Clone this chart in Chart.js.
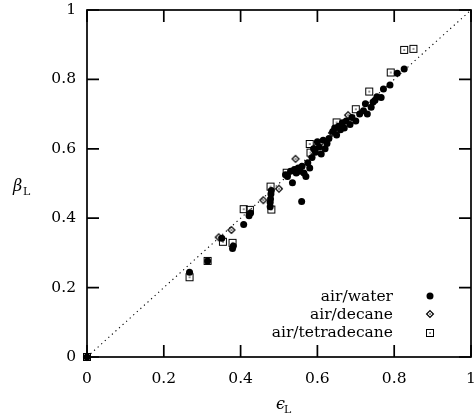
<!DOCTYPE html>
<html>
<head>
<meta charset="utf-8">
<script src="https://cdn.jsdelivr.net/npm/chart.js@4/dist/chart.umd.min.js"></script>
<style>
  html, body { margin: 0; padding: 0; background: #fff; }
</style>
</head>
<body>
<canvas id="chart" width="476" height="419"></canvas>
<script>
// Values (epsilon_L on x, beta_L on y)
const waterX = [0, 0.267, 0.314, 0.351, 0.379, 0.381, 0.408, 0.422, 0.426, 0.477, 0.477, 0.478, 0.479, 0.48,
  0.559, 0.517, 0.522, 0.53, 0.535, 0.54, 0.545, 0.55, 0.555, 0.56, 0.565, 0.57, 0.575, 0.58,
  0.586, 0.59, 0.595, 0.6, 0.605, 0.61, 0.615, 0.62, 0.625, 0.63, 0.64, 0.645, 0.65, 0.655,
  0.66, 0.665, 0.67, 0.675, 0.685, 0.69, 0.7, 0.71, 0.72, 0.725, 0.73, 0.74, 0.745, 0.75,
  0.755, 0.766, 0.772, 0.789, 0.808, 0.826];
const waterY = [0, 0.244, 0.277, 0.342, 0.313, 0.32, 0.382, 0.407, 0.415, 0.445, 0.433, 0.455, 0.47, 0.48,
  0.448, 0.525, 0.52, 0.535, 0.502, 0.54, 0.53, 0.545, 0.535, 0.55, 0.53, 0.52, 0.56, 0.545,
  0.575, 0.6, 0.59, 0.62, 0.605, 0.585, 0.625, 0.6, 0.615, 0.63, 0.65, 0.66, 0.64, 0.665,
  0.655, 0.675, 0.66, 0.68, 0.67, 0.69, 0.68, 0.7, 0.71, 0.73, 0.7, 0.72, 0.735, 0.74,
  0.75, 0.748, 0.772, 0.784, 0.818, 0.83];

const decaneX = [0, 0.343, 0.376, 0.459, 0.5, 0.543, 0.6, 0.638, 0.68];
const decaneY = [0, 0.345, 0.366, 0.452, 0.485, 0.571, 0.61, 0.646, 0.697];

const tetraX = [0, 0.267, 0.314, 0.354, 0.379, 0.408, 0.424, 0.48, 0.478, 0.52, 0.58, 0.582,
  0.65, 0.7, 0.735, 0.791, 0.826, 0.85];
const tetraY = [0, 0.23, 0.277, 0.332, 0.329, 0.426, 0.424, 0.425, 0.491, 0.531, 0.614, 0.589,
  0.676, 0.714, 0.765, 0.82, 0.885, 0.888];

const diagX = [0, 1];
const tickValues = [0, 0.2, 0.4, 0.6, 0.8, 1];
const legendLabels = ['air/water', 'air/decane', 'air/tetradecane'];

const FONT = '"DejaVu Serif", "Liberation Serif", serif';
const TICK_LEN = 12;

function toPoints(xs, ys) {
  return xs.map((x, i) => ({x: x, y: ys[i]}));
}

// Open symbols with a small dot in the middle, like the gnuplot ones
function makeSymbol(kind) {
  const c = document.createElement('canvas');
  c.width = 10; c.height = 10;
  const g = c.getContext('2d');
  g.strokeStyle = '#000';
  g.fillStyle = '#000';
  if (kind === 'square') {
    g.lineWidth = 1;
    g.strokeRect(1.5, 1.5, 7, 7);
  } else {
    g.lineWidth = 1.25;
    g.beginPath();
    g.moveTo(5, 1.6); g.lineTo(8.4, 5); g.lineTo(5, 8.4); g.lineTo(1.6, 5); g.closePath();
    g.stroke();
  }
  g.fillRect(4.4, 4.4, 1.3, 1.3);
  return c;
}
const squareImg = makeSymbol('square');
const diamondImg = makeSymbol('diamond');

// keep the plot box where the reference has it, whatever the tick labels need
function noPadding(scale) {
  scale.paddingLeft = 0;
  scale.paddingRight = 0;
  scale.paddingTop = 0;
  scale.paddingBottom = 0;
}

const frameTicks = {
  id: 'frameTicks',
  beforeDatasetsDraw(chart) {
    const {ctx, chartArea: a, scales: {x, y}} = chart;
    ctx.save();
    ctx.strokeStyle = '#000';
    ctx.lineWidth = 1.7;
    ctx.strokeRect(a.left, a.top, a.right - a.left, a.bottom - a.top);
    ctx.beginPath();
    tickValues.forEach(v => {
      const px = x.getPixelForValue(v);
      const py = y.getPixelForValue(v);
      ctx.moveTo(px, a.bottom); ctx.lineTo(px, a.bottom - TICK_LEN);
      ctx.moveTo(px, a.top); ctx.lineTo(px, a.top + TICK_LEN);
      ctx.moveTo(a.left, py); ctx.lineTo(a.left + TICK_LEN, py);
      ctx.moveTo(a.right, py); ctx.lineTo(a.right - TICK_LEN, py);
    });
    ctx.stroke();
    ctx.restore();
  },
  afterDraw(chart) {
    const {ctx} = chart;
    ctx.save();
    ctx.fillStyle = '#000';

    // legend: text right aligned, symbol on the right
    ctx.font = '15.5px ' + FONT;
    ctx.textAlign = 'right';
    ctx.textBaseline = 'middle';
    const rows = [297, 315, 333];
    legendLabels.forEach((t, i) => ctx.fillText(t, 393, rows[i]));
    ctx.beginPath();
    ctx.arc(430, rows[0] - 1, 3.5, 0, Math.PI * 2);
    ctx.fill();
    ctx.drawImage(diamondImg, 425, rows[1] - 6);
    ctx.drawImage(squareImg, 425, rows[2] - 5);

    // axis titles with subscripts
    ctx.textAlign = 'left';
    ctx.textBaseline = 'alphabetic';
    ctx.font = 'italic 16px ' + FONT;
    ctx.fillText('β', 13, 191);
    ctx.font = '11px ' + FONT;
    ctx.fillText('L', 23, 195);

    ctx.font = 'italic 16px ' + FONT;
    ctx.fillText('ϵ', 276, 409);
    ctx.font = '11px ' + FONT;
    ctx.fillText('L', 284, 413);
    ctx.restore();
  }
};

const tickLabel = v => String(Math.round(v * 10) / 10);

new Chart(document.getElementById('chart'), {
  type: 'scatter',
  data: {
    datasets: [
      {
        type: 'line',
        data: toPoints(diagX, diagX),
        borderColor: '#000',
        borderWidth: 1.1,
        borderDash: [1.2, 3.6],
        pointRadius: 0,
        fill: false,
        clip: false
      },
      {
        label: legendLabels[0],
        data: toPoints(waterX, waterY),
        pointStyle: 'circle',
        pointRadius: 3.5,
        backgroundColor: '#000',
        borderColor: '#000',
        borderWidth: 0,
        clip: false
      },
      {
        label: legendLabels[1],
        data: toPoints(decaneX, decaneY),
        pointStyle: diamondImg,
        clip: false
      },
      {
        label: legendLabels[2],
        data: toPoints(tetraX, tetraY),
        pointStyle: squareImg,
        clip: false
      }
    ]
  },
  options: {
    responsive: false,
    animation: false,
    events: [],
    layout: {padding: {top: 10, right: 3, left: 0, bottom: 0}},
    plugins: {legend: {display: false}, tooltip: {enabled: false}},
    scales: {
      x: {
        type: 'linear',
        min: 0, max: 1,
        afterBuildTicks: scale => { scale.ticks = tickValues.map(v => ({value: v})); },
        afterFit: scale => { scale.height = 62; noPadding(scale); },
        grid: {display: false, drawTicks: false},
        border: {display: false},
        ticks: {color: '#000', padding: 13, maxRotation: 0, autoSkip: false,
                callback: tickLabel, font: {family: FONT, size: 15.5}}
      },
      y: {
        type: 'linear',
        min: 0, max: 1,
        afterBuildTicks: scale => { scale.ticks = tickValues.map(v => ({value: v})); },
        afterFit: scale => { scale.width = 87; noPadding(scale); },
        grid: {display: false, drawTicks: false},
        border: {display: false},
        ticks: {color: '#000', padding: 11, autoSkip: false,
                callback: tickLabel, font: {family: FONT, size: 15.5}}
      }
    }
  },
  plugins: [frameTicks]
});
</script>
</body>
</html>
